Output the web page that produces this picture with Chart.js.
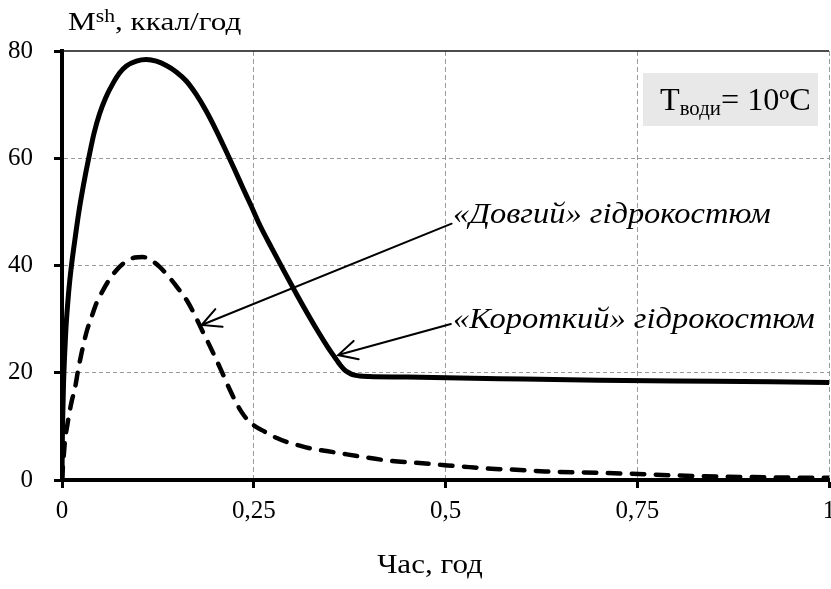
<!DOCTYPE html>
<html><head><meta charset="utf-8">
<script src="https://cdn.jsdelivr.net/npm/chart.js@4.4.0/dist/chart.umd.min.js"></script>
<style>html,body{margin:0;padding:0;background:#fff}canvas{display:block}</style>
</head><body>
<canvas id="c" width="831" height="589"></canvas>
<script>
// ---- data ----
const xTickValues = [0, 0.25, 0.5, 0.75, 1];
const xTickLabels = ['0', '0,25', '0,5', '0,75', '1'];
const yTickValues = [0, 20, 40, 60, 80];

// «Короткий» гідрокостюм (solid)
const shortX = [0, 0.0005, 0.001, 0.002, 0.0035, 0.005, 0.0075, 0.01, 0.0126, 0.017, 0.022, 0.028, 0.0355, 0.042, 0.049, 0.057, 0.067, 0.075, 0.084, 0.097, 0.11, 0.123, 0.136, 0.149, 0.162, 0.175, 0.188, 0.201, 0.214, 0.225, 0.236, 0.247, 0.258, 0.274, 0.29, 0.306, 0.323, 0.335, 0.345, 0.352, 0.358, 0.363, 0.368, 0.374, 0.38, 0.388, 0.4, 0.45, 0.57, 0.7, 0.85, 1];
const shortY = [0, 8, 12, 18, 23.5, 28, 33, 37, 40.3, 45, 50, 55, 60.5, 64.8, 68.3, 71.3, 74.1, 75.9, 77.2, 78.1, 78.4, 78.1, 77.3, 76.1, 74.4, 71.9, 68.8, 65.2, 61.3, 57.9, 54.4, 51, 47.5, 43.1, 38.8, 34.6, 30.3, 27.4, 25.1, 23.6, 22.4, 21.4, 20.6, 20, 19.6, 19.4, 19.3, 19.2, 18.9, 18.6, 18.4, 18.2];

// «Довгий» гідрокостюм (dashed)
const longX = [0, 0.002, 0.004, 0.007, 0.01, 0.013, 0.017, 0.021, 0.026, 0.032, 0.039, 0.045, 0.052, 0.06, 0.069, 0.082, 0.095, 0.105, 0.117, 0.127, 0.138, 0.151, 0.164, 0.173, 0.182, 0.19, 0.199, 0.208, 0.216, 0.225, 0.234, 0.242, 0.251, 0.262, 0.273, 0.293, 0.31, 0.327, 0.345, 0.362, 0.392, 0.427, 0.462, 0.496, 0.531, 0.56, 0.592, 0.63, 0.68, 0.735, 0.79, 0.839, 0.92, 1];
const longY = [0, 4, 7.5, 10.3, 12.8, 14.9, 17.2, 20.5, 24, 27.6, 30.6, 33, 35, 37, 38.8, 40.6, 41.5, 41.6, 40.9, 39.8, 38.1, 35.8, 33.2, 30.8, 28.1, 25.8, 23.1, 20.3, 17.7, 15, 12.7, 11.2, 10.1, 9.2, 8.3, 7.1, 6.4, 5.8, 5.4, 5.0, 4.3, 3.6, 3.2, 2.8, 2.4, 2.1, 1.9, 1.6, 1.4, 1.2, 0.9, 0.7, 0.5, 0.4];

const yTitleMain = 'M', yTitleSup = 'sh', yTitleRest = ', ккал/год';
const xTitle = 'Час, год';
const labelLong = '«Довгий» гідрокостюм';
const labelShort = '«Короткий» гідрокостюм';
const boxT = 'T', boxSub = 'води', boxRest = '= 10ºC';

// arrows in data coordinates: [startX, startY, tipX, tipY]
const arrowLong = [0.508, 47.8, 0.182, 28.9];
const arrowShort = [0.507, 29.1, 0.360, 23.3];

const toPts = (xs, ys) => xs.map((x, i) => ({x, y: ys[i]}));

const SERIF = '"Liberation Serif", "Times New Roman", serif';

function txt(ctx, s, x, y, font, sx, align) {
  ctx.save();
  ctx.font = font;
  ctx.fillStyle = '#000';
  ctx.textBaseline = 'alphabetic';
  ctx.textAlign = align || 'left';
  ctx.scale(sx, 1);
  ctx.fillText(s, x / sx, y);
  const w = ctx.measureText(s).width * sx;
  ctx.restore();
  return w;
}

function arrow(ctx, xs, ys, a) {
  const x1 = xs.getPixelForValue(a[0]), y1 = ys.getPixelForValue(a[1]);
  const x2 = xs.getPixelForValue(a[2]), y2 = ys.getPixelForValue(a[3]);
  const ang = Math.atan2(y1 - y2, x1 - x2);
  const L = 21, h = 27 * Math.PI / 180;
  ctx.save();
  ctx.strokeStyle = '#000';
  ctx.lineWidth = 2;
  ctx.lineCap = 'round';
  ctx.beginPath();
  ctx.moveTo(x1, y1); ctx.lineTo(x2, y2);
  ctx.moveTo(x2 + L * Math.cos(ang - h), y2 + L * Math.sin(ang - h));
  ctx.lineTo(x2, y2);
  ctx.lineTo(x2 + L * Math.cos(ang + h), y2 + L * Math.sin(ang + h));
  ctx.stroke();
  ctx.restore();
}

const decor = {
  id: 'decor',
  afterDraw(chart) {
    const ctx = chart.ctx, ca = chart.chartArea;
    const xs = chart.scales.x, ys = chart.scales.y;
    // top frame line
    ctx.save();
    ctx.strokeStyle = '#111';
    ctx.lineWidth = 1.6;
    ctx.beginPath();
    ctx.moveTo(ca.left, ca.top); ctx.lineTo(ca.right, ca.top);
    ctx.stroke();
    ctx.restore();

    // y axis title
    let x = 68;
    x += txt(ctx, yTitleMain, x, 30, '26px ' + SERIF, 1.2);
    x += txt(ctx, yTitleSup, x, 22, '18px ' + SERIF, 1.2);
    txt(ctx, yTitleRest, x, 30, '26px ' + SERIF, 1.2);

    // x axis title
    txt(ctx, xTitle, 430, 573, '27px ' + SERIF, 1.15, 'center');

    // T box
    ctx.save();
    ctx.fillStyle = '#e8e8e8';
    ctx.fillRect(643, 73, 175, 53);
    ctx.restore();
    let bx = 660;
    bx += txt(ctx, boxT, bx, 110, '31px ' + SERIF, 1.04);
    bx += txt(ctx, boxSub, bx, 115, '20px ' + SERIF, 1.04);
    txt(ctx, boxRest, bx, 110, '31px ' + SERIF, 1.04);

    // arrows + labels
    arrow(ctx, xs, ys, arrowLong);
    arrow(ctx, xs, ys, arrowShort);
    txt(ctx, labelLong, 453, 223, 'italic 29px ' + SERIF, 1.12);
    txt(ctx, labelShort, 453, 328, 'italic 29px ' + SERIF, 1.12);
  }
};

new Chart(document.getElementById('c'), {
  type: 'line',
  data: {
    datasets: [
      {
        label: labelShort,
        data: toPts(shortX, shortY),
        borderColor: '#000',
        borderWidth: 5,
        borderJoinStyle: 'round',
        pointRadius: 0,
        cubicInterpolationMode: 'monotone',
        fill: false
      },
      {
        label: labelLong,
        data: toPts(longX, longY),
        borderColor: '#000',
        borderWidth: 4.5,
        borderDash: [12.5, 11.5],
        borderCapStyle: 'round',
        pointRadius: 0,
        cubicInterpolationMode: 'monotone',
        fill: false
      }
    ]
  },
  options: {
    responsive: false,
    devicePixelRatio: 1,
    animation: false,
    events: [],
    layout: { padding: { top: 51, right: 2, left: 0, bottom: 0 } },
    plugins: { legend: { display: false }, tooltip: { enabled: false }, title: { display: false } },
    scales: {
      x: {
        type: 'linear',
        min: 0, max: 1,
        afterBuildTicks: s => { s.ticks = xTickValues.map(v => ({value: v})); },
        afterFit: s => { s.height = 109; s.paddingLeft = 0; s.paddingRight = 0; },
        ticks: {
          autoSkip: false, maxRotation: 0, padding: 8, color: '#000',
          font: { family: SERIF, size: 25 },
          callback: v => xTickLabels[xTickValues.indexOf(v)]
        },
        grid: {
          color: c => (c.tick && c.tick.value === 0) ? 'rgba(0,0,0,0)' : '#9a9a9a',
          lineWidth: 1, tickLength: 8, tickColor: '#000', tickWidth: 3, tickBorderDash: []
        },
        border: { color: '#000', width: 4, dash: [5, 3] }
      },
      y: {
        min: 0, max: 80,
        afterBuildTicks: s => { s.ticks = yTickValues.map(v => ({value: v})); },
        afterFit: s => { s.width = 62; s.paddingTop = 0; s.paddingBottom = 0; },
        ticks: {
          padding: 21, color: '#000',
          font: { family: SERIF, size: 25 },
          callback: v => String(v)
        },
        grid: {
          color: c => (c.tick && (c.tick.value === 0 || c.tick.value === 80)) ? 'rgba(0,0,0,0)' : '#9a9a9a',
          lineWidth: 1, tickLength: 8, tickColor: '#000', tickWidth: 3, tickBorderDash: []
        },
        border: { color: '#000', width: 4, dash: [4, 3] }
      }
    }
  },
  plugins: [decor]
});
</script>
</body></html>
